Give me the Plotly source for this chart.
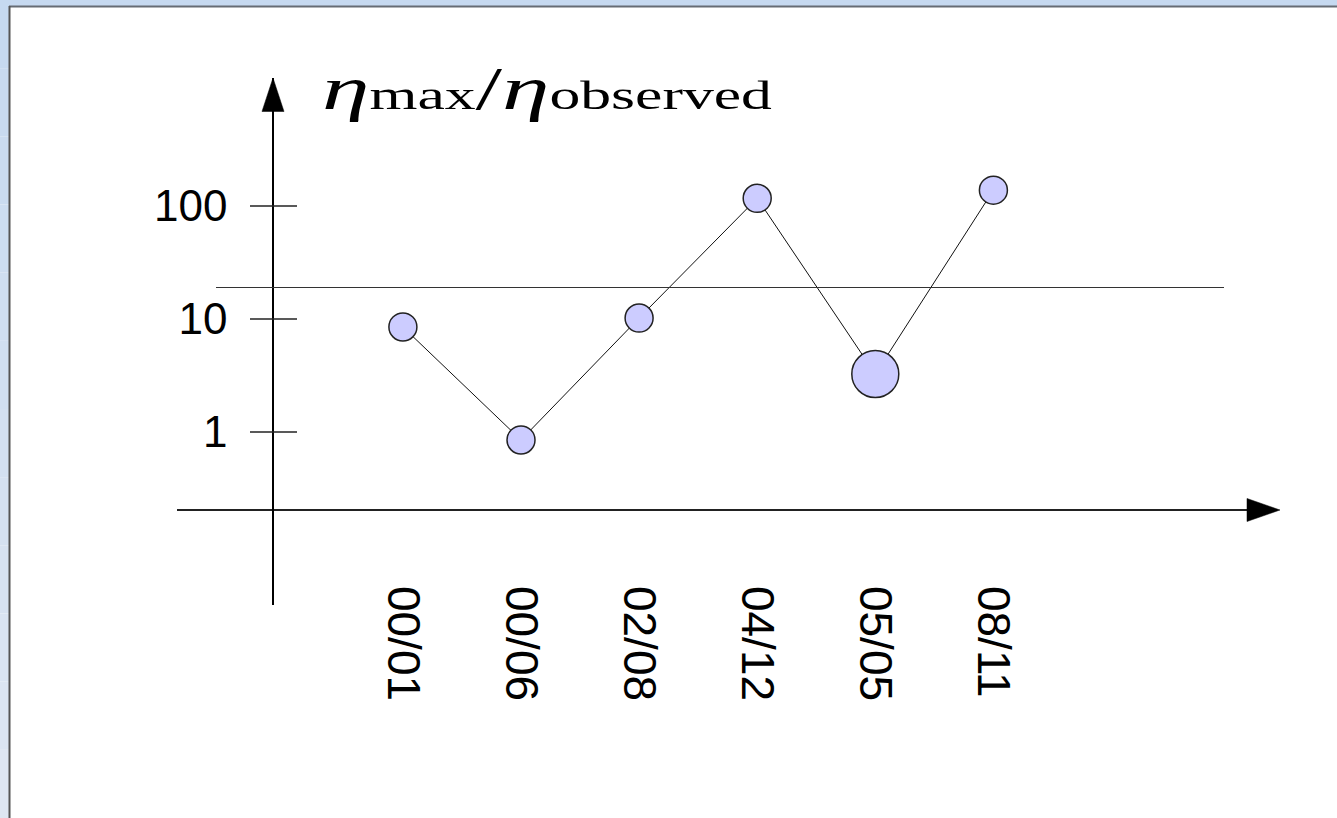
import plotly.graph_objects as go

W, H = 1337, 818

# ---- data -------------------------------------------------------------
dates = ["00/01", "00/06", "02/08", "04/12", "05/05", "08/11"]
eta_ratio = [8.5, 0.85, 10.2, 117, 3.26, 138]
y_tick_values = [1, 10, 100]
y_tick_labels = ["1", "10", "100"]
threshold = 19

# ---- styling ----------------------------------------------------------
point_sizes = [28, 28, 28, 28, 47, 28]
label_font = dict(family="Liberation Sans, Arial, sans-serif", size=44, color="black")
date_font = dict(family="Liberation Sans, Arial, sans-serif", size=46, color="black")


def fx(p):
    """pixel column -> paper x"""
    return p / W


def fy(p):
    """pixel row -> paper y"""
    return 1 - p / H


# category index -> pixel column: 402.9 + 118.1 * i
X0, DX = 402.9, 118.1
x_dom = (177, 1247)
y_dom = (78, 605)
Y0, DY = 432, 113  # row of value 1, pixels per decade

fig = go.Figure()
fig.add_trace(go.Scatter(
    x=dates, y=eta_ratio, mode="lines+markers",
    line=dict(color="#111111", width=1),
    marker=dict(size=point_sizes, color="#ccccff", opacity=1,
                line=dict(color="#222222", width=1.5)),
    cliponaxis=False, showlegend=False,
))

fig.update_xaxes(
    type="category",
    domain=[fx(x_dom[0]), fx(x_dom[1])],
    range=[(x_dom[0] - X0) / DX, (x_dom[1] - X0) / DX],
    anchor="free", position=fy(510),
    showline=True, linecolor="#222222", linewidth=1.5,
    showgrid=False, zeroline=False, ticks="",
    tickangle=90, ticklabelstandoff=66, tickfont=date_font,
)
fig.update_yaxes(
    type="log",
    domain=[fy(y_dom[1]), fy(y_dom[0])],
    range=[(Y0 - y_dom[1]) / DY, (Y0 - y_dom[0]) / DY],
    anchor="free", position=fx(273),
    showline=True, linecolor="black", linewidth=1.5,
    showgrid=False, zeroline=False, ticks="",
    tickvals=y_tick_values, ticktext=y_tick_labels,
    ticklabelstandoff=36, tickfont=label_font,
)

shapes = []

# window frame: light blue strips with a dark inner edge
top_c = (198, 217, 240)
bot_c = (222, 230, 242)
n_bands = 12
for k in range(n_bands):
    t = k / (n_bands - 1)
    c = tuple(round(a + (b - a) * t) for a, b in zip(top_c, bot_c))
    shapes.append(dict(type="rect", xref="paper", yref="paper",
                       x0=0, x1=fx(9), y0=fy(H * k / n_bands), y1=fy(H * (k + 1) / n_bands),
                       fillcolor="rgb(%d,%d,%d)" % c, line_width=0, layer="below"))
shapes.append(dict(type="rect", xref="paper", yref="paper", x0=0, x1=1, y0=fy(6), y1=1,
                   fillcolor="#c6d9f0", line_width=0, layer="below"))
shapes.append(dict(type="line", xref="paper", yref="paper", x0=fx(9), x1=1, y0=fy(6.5), y1=fy(6.5),
                   line=dict(color="#666c74", width=2)))
shapes.append(dict(type="line", xref="paper", yref="paper", x0=fx(9.5), x1=fx(9.5), y0=0, y1=fy(6),
                   line=dict(color="#555555", width=2)))

# tick marks crossing the vertical axis
for v in y_tick_values:
    shapes.append(dict(type="line", xref="paper", yref="y", x0=fx(250), x1=fx(297), y0=v, y1=v,
                       line=dict(color="#222222", width=1.4)))

# threshold line
shapes.append(dict(type="line", xref="paper", yref="y", x0=fx(216), x1=fx(1224),
                   y0=threshold, y1=threshold, line=dict(color="#333333", width=1.2)))

# arrow heads
shapes.append(dict(type="path", xref="paper", yref="paper",
                   path="M %f,%f L %f,%f L %f,%f Z" % (fx(273), fy(78), fx(262), fy(111.5), fx(284), fy(111.5)),
                   fillcolor="black", line=dict(color="black", width=0.5)))
shapes.append(dict(type="path", xref="paper", yref="paper",
                   path="M %f,%f L %f,%f L %f,%f Z" % (fx(1280), fy(510), fx(1247), fy(498.5), fx(1247), fy(521.5)),
                   fillcolor="black", line=dict(color="black", width=0.5)))

fig.update_layout(
    width=W, height=H,
    margin=dict(l=0, r=0, t=0, b=0),
    paper_bgcolor="white", plot_bgcolor="white",
    shapes=shapes,
    annotations=[dict(
        xref="paper", yref="paper", x=fx(320), y=fy(88),
        xanchor="left", yanchor="middle", showarrow=False,
        text=("<i>η</i><span style=\"font-size:40px\">max</span>"
              "/<i>η</i><span style=\"font-size:40px\">observed</span>"),
        font=dict(family="Liberation Serif, Times New Roman, serif", size=62, color="black"),
    )],
)

# widen the formula horizontally, as it appears in the drawing
post = """
var gd = document.getElementById('{plot_id}');
function widenTitle(){
  var t = gd.querySelector('g.annotation[data-index="0"] text.annotation-text');
  if(!t) return;
  var orig = t.getAttribute('data-orig-tf');
  if(orig === null){ orig = t.getAttribute('transform') || ''; t.setAttribute('data-orig-tf', orig); }
  t.setAttribute('transform', orig);
  var bb = t.getBBox();
  var s = 450 / bb.width;
  t.setAttribute('transform', orig + ' translate(' + bb.x + ',0) scale(' + s + ',1) translate(' + (-bb.x) + ',0)');
}
widenTitle();
gd.on('plotly_afterplot', widenTitle);
"""

fig.write_html("out.html", post_script=post)
